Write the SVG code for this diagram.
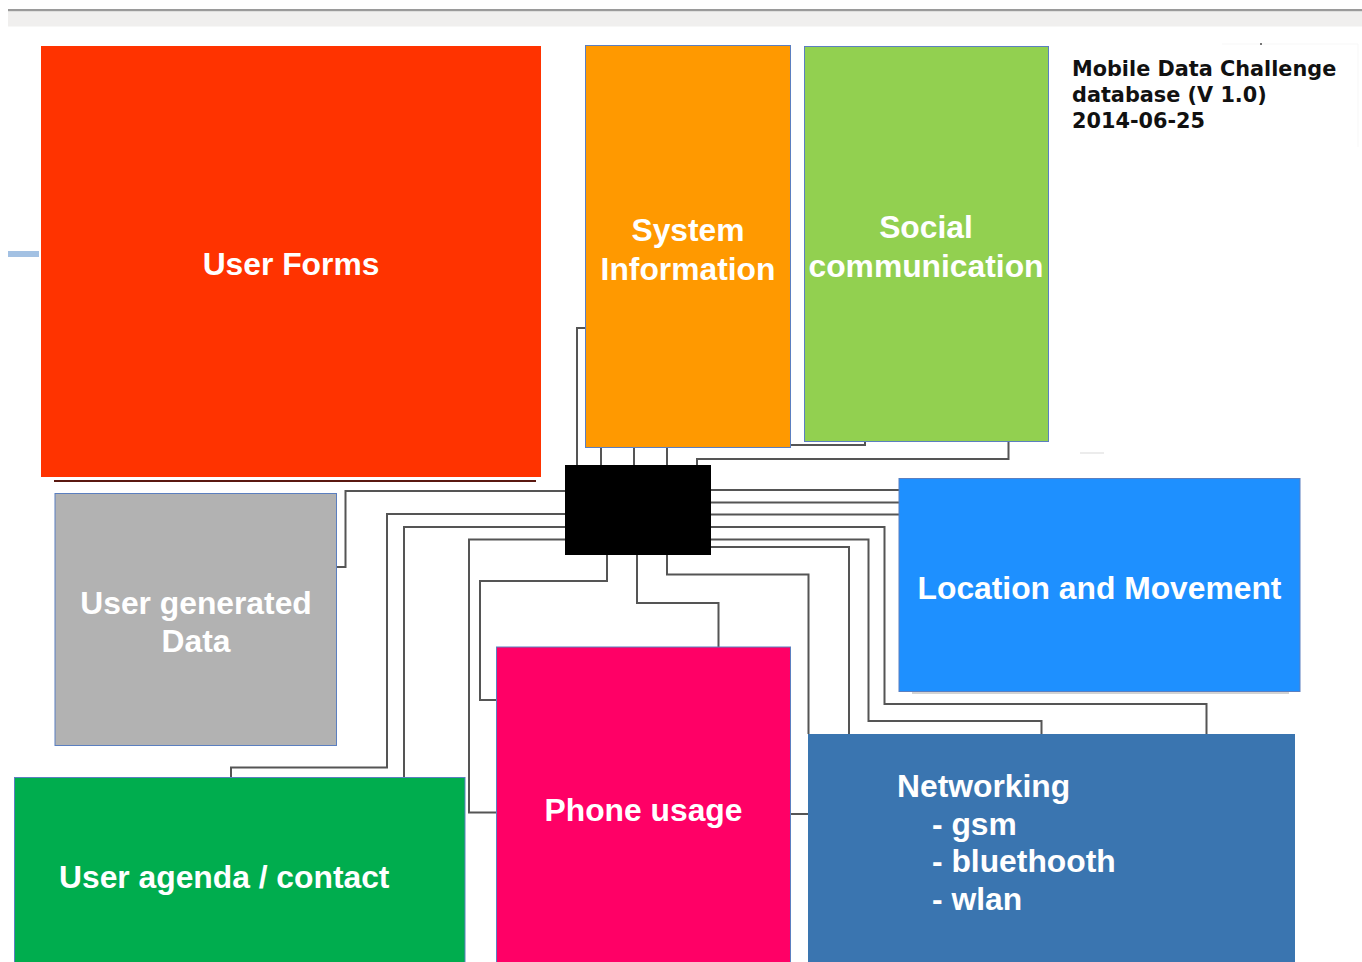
<svg xmlns="http://www.w3.org/2000/svg" width="1362" height="962" viewBox="0 0 1362 962">
  <defs>
    <style>
      .box { stroke: #5b7fc0; stroke-width: 1; }
      .label { font-family: "Liberation Sans", Arial, sans-serif; font-weight: bold; font-size: 31.8px; fill: #ffffff; }
      .mid { text-anchor: middle; }
      .wire { fill: none; stroke: #555555; stroke-width: 2; stroke-linejoin: miter; }
      .title { font-family: "DejaVu Sans", sans-serif; font-weight: bold; font-size: 20.8px; fill: #111111; }
    </style>
  </defs>

  <rect width="1362" height="962" fill="#ffffff"/>

  <!-- window toolbar strip -->
  <rect x="8" y="9" width="1354" height="2.5" fill="#9a9a9a"/>
  <rect x="8" y="11.5" width="1354" height="15" fill="#f0efee"/>

  <!-- small marks -->
  <rect x="8" y="251" width="31" height="6" fill="#a3c1e3"/>
  <path d="M1222,44 H1358 V147" fill="none" stroke="#f7f7f7" stroke-width="1"/>
  <rect x="1260" y="43" width="2" height="2" fill="#777777"/>
  <line x1="1080" y1="453" x2="1104" y2="453" stroke="#e6e6e6" stroke-width="1.5"/>

  <!-- shadows -->
  <line x1="54" y1="481" x2="536" y2="481" stroke="#5a1810" stroke-width="2"/>
  <line x1="912" y1="693" x2="1289" y2="693" stroke="#c4c4c4" stroke-width="1.5"/>

  <!-- connectors -->
  <g id="connectors" class="wire">
    <path d="M337,567 H345.5 V491 H565"/>
    <path d="M565,514 H387 V767.5 H231 V777"/>
    <path d="M565,527 H404 V777"/>
    <path d="M565,539.5 H469 V812.5 H496"/>
    <path d="M607,555 V581 H480 V700 H496"/>
    <path d="M637,555 V603 H718.5 V647"/>
    <path d="M667,555 V574.5 H808.5 V734"/>
    <path d="M711,547 H849 V734"/>
    <path d="M711,539.5 H868.5 V721 H1041.5 V734"/>
    <path d="M711,527 H884.5 V704 H1206.5 V734"/>
    <path d="M711,490 H899"/>
    <path d="M711,502.5 H899"/>
    <path d="M711,514.5 H899"/>
    <path d="M577,465 V328 H585"/>
    <path d="M601,447 V465"/>
    <path d="M634,447 V465"/>
    <path d="M667,447 V465"/>
    <path d="M697,465 V459 H1008.5 V441.5"/>
    <path d="M790.5,445 H865 V441.5"/>
    <path d="M791,814 H808"/>
  </g>

  <!-- hub -->
  <g id="hub">
    <rect x="565" y="465" width="146" height="90" fill="#000000"/>
  </g>

  <g id="user-forms">
    <rect x="41" y="46" width="500" height="431" fill="#ff3300"/>
    <text class="label mid" x="291" y="275">User Forms</text>
  </g>

  <g id="system-information">
    <rect class="box" x="585.5" y="45.5" width="205" height="402" fill="#ff9900"/>
    <text class="label mid" x="688" y="241">System</text>
    <text class="label mid" x="688" y="280">Information</text>
  </g>

  <g id="social-communication">
    <rect class="box" x="804.5" y="46.5" width="244" height="395" fill="#92d050"/>
    <text class="label mid" x="926" y="238">Social</text>
    <text class="label mid" x="926" y="277">communication</text>
  </g>

  <g id="user-generated-data">
    <rect class="box" x="55" y="493.5" width="281.5" height="252" fill="#b2b2b2"/>
    <text class="label mid" x="196" y="614">User generated</text>
    <text class="label mid" x="196" y="652">Data</text>
  </g>

  <g id="location-movement">
    <rect class="box" x="899" y="478.5" width="401" height="213" fill="#1e90ff"/>
    <text class="label mid" x="1099.5" y="599">Location and Movement</text>
  </g>

  <g id="phone-usage">
    <rect class="box" x="496.5" y="647" width="294" height="320" fill="#ff0066"/>
    <text class="label mid" x="643.5" y="821">Phone usage</text>
  </g>

  <g id="networking">
    <rect x="808" y="734" width="487" height="233" fill="#3a75b0"/>
    <text class="label" x="897" y="797">Networking</text>
    <text class="label" x="932" y="834.5">- gsm</text>
    <text class="label" x="932" y="872">- bluethooth</text>
    <text class="label" x="932" y="910">- wlan</text>
  </g>

  <g id="user-agenda">
    <rect class="box" x="14.5" y="777.5" width="450.5" height="190" fill="#00ad4e"/>
    <text class="label" x="59" y="888">User agenda / contact</text>
  </g>

  <g id="caption">
    <text class="title" x="1072" y="76">Mobile Data Challenge</text>
    <text class="title" x="1072" y="102">database (V 1.0)</text>
    <text class="title" x="1072" y="127.5">2014-06-25</text>
  </g>
</svg>
